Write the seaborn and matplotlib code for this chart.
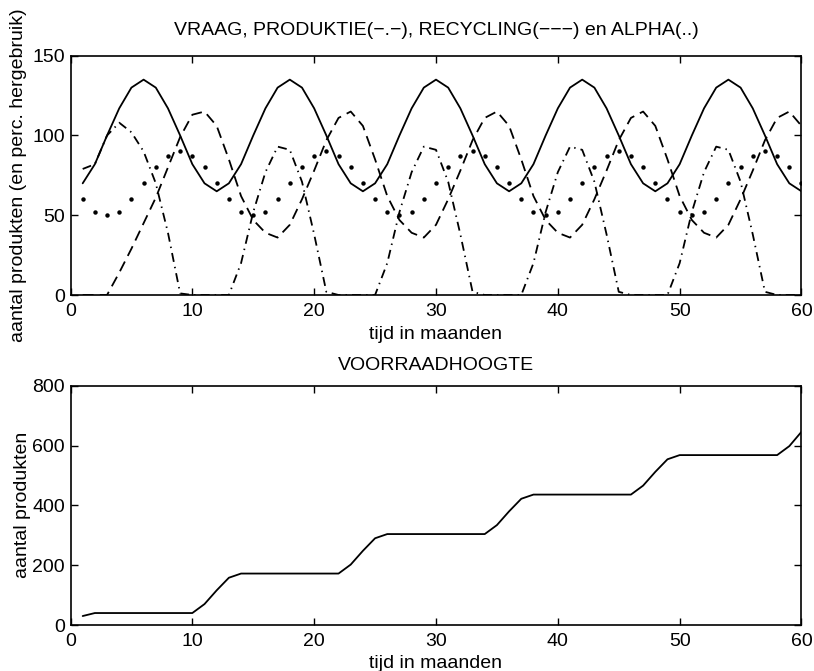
import numpy as np
import pandas as pd
import matplotlib
matplotlib.use('Agg')
import matplotlib.pyplot as plt
import seaborn as sns

# Data (months 1..60)
months = list(range(1, 61))

demand = [70, 82, 100, 117, 130, 135, 130, 117, 100, 82, 70, 65,
          70, 82, 100, 117, 130, 135, 130, 117, 100, 82, 70, 65,
          70, 82, 100, 117, 130, 135, 130, 117, 100, 82, 70, 65,
          70, 82, 100, 117, 130, 135, 130, 117, 100, 82, 70, 65,
          70, 82, 100, 117, 130, 135, 130, 117, 100, 82, 70, 65]

production = [79, 82, 100, 108, 102, 90, 70, 39, 1, 0, 0, 0, 0,
              20, 52, 77, 93, 91, 71, 38, 2, 0, 0, 0, 0,
              20, 52, 77, 93, 91, 71, 38, 2, 0, 0, 0, 0,
              20, 52, 77, 93, 91, 71, 38, 2, 0, 0, 0, 0,
              20, 52, 77, 93, 91, 71, 38, 2, 0, 0, 0]

recycling = [0, 0, 0, 14, 29, 45, 61, 80, 99, 113, 115, 106, 85,
             62, 47, 39, 36, 44, 60, 78, 97, 111, 115, 106, 85,
             62, 47, 39, 36, 44, 60, 78, 97, 111, 115, 106, 85,
             62, 47, 39, 36, 44, 60, 78, 97, 111, 115, 106, 85,
             62, 47, 39, 36, 44, 60, 78, 97, 111, 115, 106]

alpha = [60, 52, 50, 52, 60, 70, 80, 87, 90, 87, 80, 70,
         60, 52, 50, 52, 60, 70, 80, 87, 90, 87, 80, 70,
         60, 52, 50, 52, 60, 70, 80, 87, 90, 87, 80, 70,
         60, 52, 50, 52, 60, 70, 80, 87, 90, 87, 80, 70,
         60, 52, 50, 52, 60, 70, 80, 87, 90, 87, 80, 70]

stock = [30, 40, 40, 40, 40, 40, 40, 40, 40, 40,
         70, 116, 158, 172, 172, 172, 172, 172, 172, 172, 172, 172,
         202, 248, 290, 304, 304, 304, 304, 304, 304, 304, 304, 304,
         334, 380, 422, 436, 436, 436, 436, 436, 436, 436, 436, 436,
         466, 512, 554, 568, 568, 568, 568, 568, 568, 568, 568, 568,
         598, 646]

x_ticks = [0, 10, 20, 30, 40, 50, 60]
top_y_ticks = [0, 50, 100, 150]
bottom_y_ticks = [0, 200, 400, 600, 800]

df = pd.DataFrame({'maand': months, 'vraag': demand, 'produktie': production,
                   'recycling': recycling, 'alpha': alpha, 'voorraad': stock})

sns.set_theme(style='ticks')
plt.rcParams['font.family'] = ['Liberation Sans', 'DejaVu Sans']
plt.rcParams['axes.linewidth'] = 1.2
plt.rcParams['text.color'] = 'black'
plt.rcParams['axes.labelcolor'] = 'black'
plt.rcParams['axes.titlecolor'] = 'black'
fs = 14

W, H = 814, 671
fig = plt.figure(figsize=(W / 100, H / 100), dpi=100)
ax1 = fig.add_axes([70.5 / W, (H - 295) / H, 731 / W, 239.3 / H])
ax2 = fig.add_axes([70.5 / W, (H - 625) / H, 731 / W, 239.3 / H])

lw = 1.3
sns.lineplot(data=df, x='maand', y='vraag', color='black', linewidth=lw, ax=ax1)
sns.lineplot(data=df, x='maand', y='produktie', color='black', linewidth=lw,
             linestyle=(0, (5, 2.8, 0.8, 2.8)), ax=ax1)
sns.lineplot(data=df, x='maand', y='recycling', color='black', linewidth=lw,
             linestyle=(0, (6, 3.5)), ax=ax1)
sns.lineplot(data=df, x='maand', y='alpha', color='black', linestyle='none',
             marker='o', markersize=3.2, markeredgewidth=0, ax=ax1)

sns.lineplot(data=df, x='maand', y='voorraad', color='black', linewidth=lw, ax=ax2)

for ax in (ax1, ax2):
    ax.set_xlim(0, 60)
    ax.set_xticks(x_ticks)
    ax.tick_params(direction='in', top=True, right=True, length=5, width=1,
                   labelsize=fs, colors='black', pad=4)
    ax.tick_params(axis='x', pad=6)
    for sp in ax.spines.values():
        sp.set_visible(True)
        sp.set_color('black')
    ax.set_facecolor('white')

ax1.set_ylim(0, 150)
ax1.set_yticks(top_y_ticks)
ax1.set_xlabel('tijd in maanden', fontsize=fs, labelpad=4)
ax1.set_ylabel('aantal produkten (en perc. hergebruik)', fontsize=fs, labelpad=4)
ax1.set_title('VRAAG, PRODUKTIE(\u2212.\u2212), RECYCLING(\u2212\u2212\u2212) en ALPHA(..)',
              fontsize=fs, pad=15)

ax2.set_ylim(0, 800)
ax2.set_yticks(bottom_y_ticks)
ax2.set_xlabel('tijd in maanden', fontsize=fs, labelpad=3)
ax2.set_ylabel('aantal produkten', fontsize=fs, labelpad=0.5)
ax2.set_title('VOORRAADHOOGTE', fontsize=fs, pad=11)

fig.savefig('out.png', dpi=100, facecolor='white')
